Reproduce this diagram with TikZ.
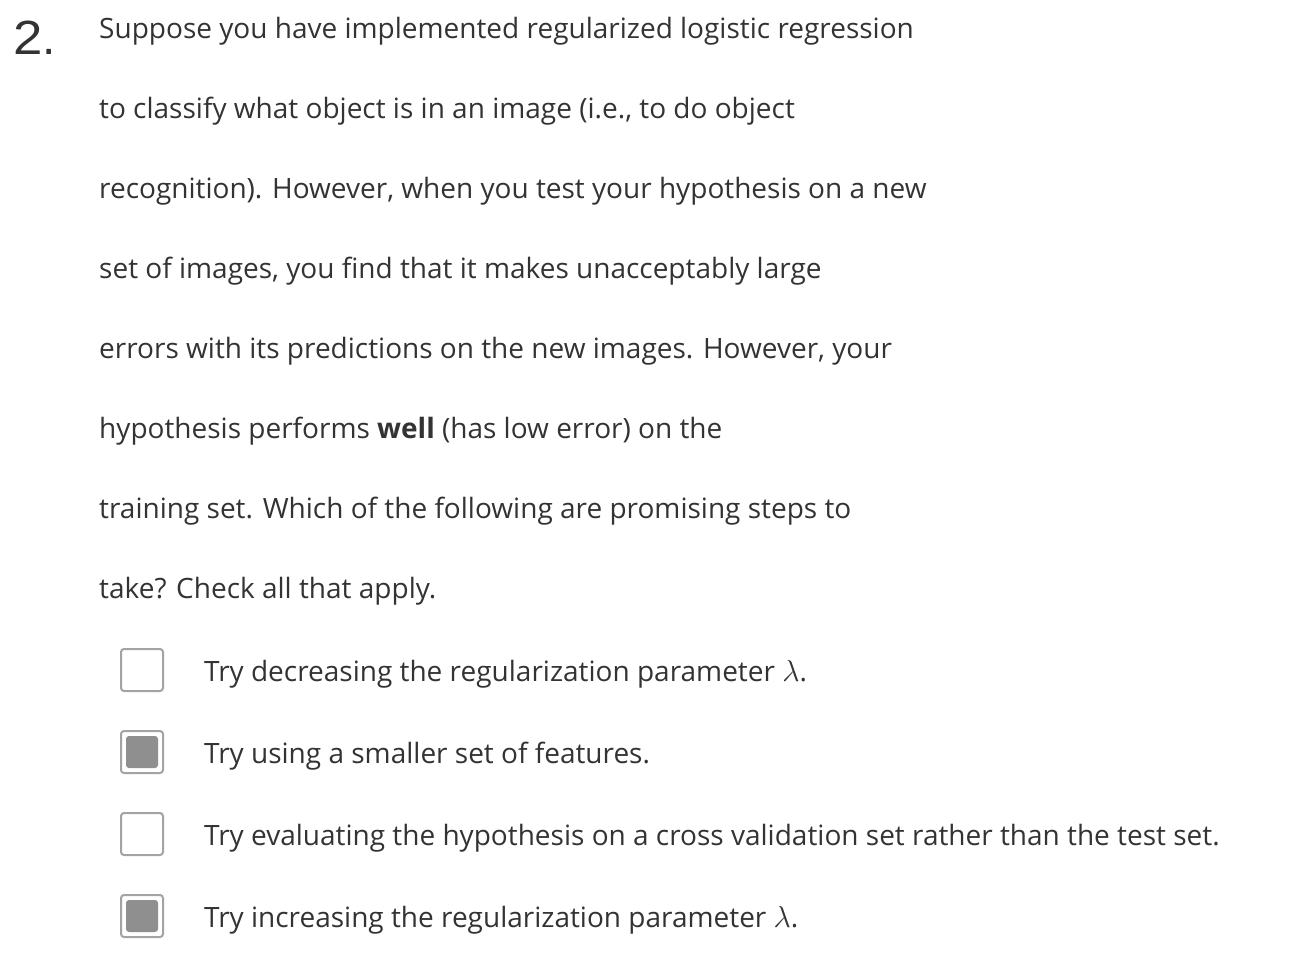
\documentclass[tikz,border=0pt]{standalone}
\usepackage{fontspec}
\usepackage{graphicx}
\setmainfont{Open Sans}
\newfontfamily\numfont{Liberation Sans}
\definecolor{ink}{HTML}{333333}
\definecolor{boxline}{HTML}{A3A3A3}
\definecolor{boxfill}{HTML}{8F8F8F}
\newcommand{\lam}{\scalebox{1.22}{$\lambda$}}
\tikzset{
	txt/.style={anchor=base west,inner sep=0pt,text=ink,font=\fontsize{28bp}{34bp}\selectfont},
	cbox/.style={draw=boxline,line width=2bp,rounded corners=3bp,minimum size=42bp,inner sep=0pt,fill=white},
	ticked/.style={cbox,path picture={\fill[boxfill] ([shift={(5bp,5bp)}]path picture bounding box.south west) rectangle ([shift={(-5bp,-5bp)}]path picture bounding box.north east);}}
}
\begin{document}
\begin{tikzpicture}[x=1bp,y=-1bp]
	\useasboundingbox (0,0) rectangle (1296,978);
	\node[anchor=base west,inner sep=0pt,text=ink,font=\numfont\fontsize{48bp}{50bp}\selectfont] (num) at (13,54) {\scalebox{1.1}[1]{2}.};
	% question text
	\node[txt] (l1) at (99,38) {Suppose you have implemented regularized logistic regression};
	\node[txt] (l2) at (99,118) {to classify what object is in an image (i.e., to do object};
	\node[txt] (l3) at (99,198) {recognition). However, when you test your hypothesis on a new};
	\node[txt] (l4) at (99,278) {set of images, you find that it makes unacceptably large};
	\node[txt] (l5) at (99,358) {errors with its predictions on the new images. However, your};
	\node[txt] (l6) at (99,438) {hypothesis performs \textbf{well} (has low error) on the};
	\node[txt] (l7) at (99,518) {training set. Which of the following are promising steps to};
	\node[txt] (l8) at (99,598) {take? Check all that apply.};
	% answers
	\node[cbox] (b1) at (142,670) {};
	\node[ticked] (b2) at (142,752) {};
	\node[cbox] (b3) at (142,834) {};
	\node[ticked] (b4) at (142,916) {};
	\node[txt] (a1) at (204,681) {Try decreasing the regularization parameter \lam.};
	\node[txt] (a2) at (204,763) {Try using a smaller set of features.};
	\node[txt] (a3) at (204,845) {Try evaluating the hypothesis on a cross validation set rather than the test set.};
	\node[txt] (a4) at (204,927) {Try increasing the regularization parameter \lam.};
\end{tikzpicture}
\end{document}
